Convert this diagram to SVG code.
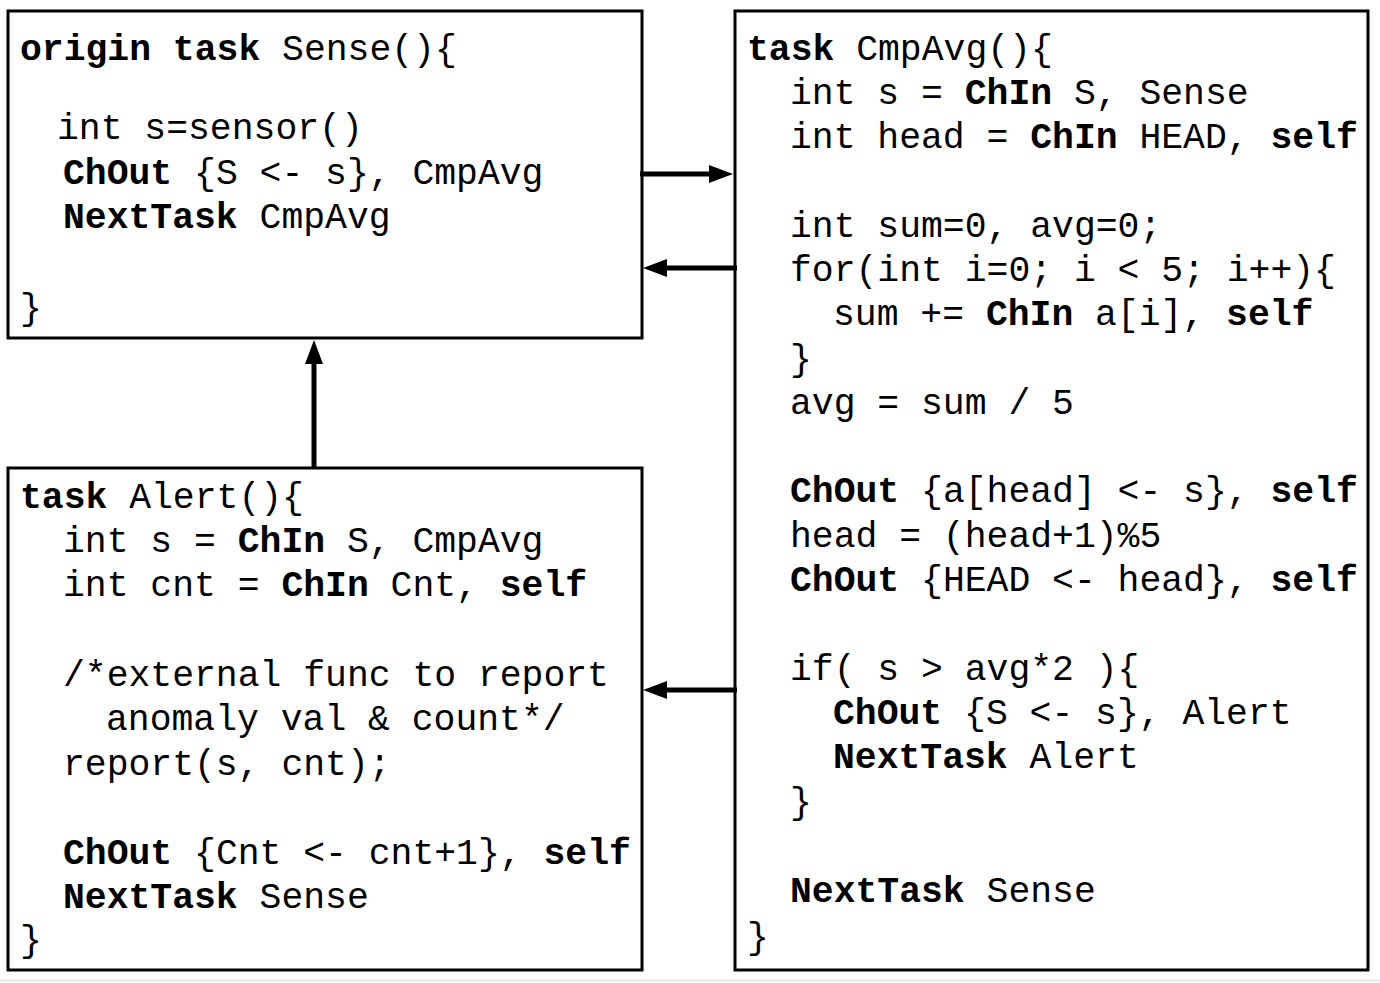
<svg xmlns="http://www.w3.org/2000/svg" width="1380" height="983" viewBox="0 0 1380 983" xml:space="preserve">
<style>
.box{fill:#fff;stroke:#000;stroke-width:3}
.code{font-family:"Nimbus Mono PS","Courier New","Liberation Mono",monospace;font-size:36.4px;fill:#000}
.b{font-weight:bold}
.conn{stroke:#000;stroke-width:5;fill:none}
</style>
<defs>
<marker id="ah" markerUnits="userSpaceOnUse" markerWidth="26" markerHeight="20" refX="12" refY="9" orient="auto"><path d="M0,0 L24,9 L0,18 z" fill="#000"/></marker>
</defs>
<rect width="1380" height="983" fill="#fff"/>
<line x1="0" y1="980.5" x2="1380" y2="980.5" stroke="#e8e8e8" stroke-width="2"/>
<g id="sense">
<rect class="box" x="8" y="11" width="634" height="327"/>
<text class="code" x="20" y="60"><tspan class="b">origin task</tspan> Sense(){</text>
<text class="code" x="57" y="139">int s=sensor()</text>
<text class="code" x="63" y="184"><tspan class="b">ChOut</tspan> {S &lt;- s}, CmpAvg</text>
<text class="code" x="63" y="228"><tspan class="b">NextTask</tspan> CmpAvg</text>
<text class="code" x="20" y="319">}</text>
</g>
<g id="cmpavg">
<rect class="box" x="735" y="11" width="633" height="959"/>
<text class="code" x="747" y="60"><tspan class="b">task</tspan> CmpAvg(){</text>
<text class="code" x="790" y="104">int s = <tspan class="b">ChIn</tspan> S, Sense</text>
<text class="code" x="790" y="148">int head = <tspan class="b">ChIn</tspan> HEAD, <tspan class="b">self</tspan></text>
<text class="code" x="790" y="237">int sum=0, avg=0;</text>
<text class="code" x="790" y="281">for(int i=0; i &lt; 5; i++){</text>
<text class="code" x="833" y="325">sum += <tspan class="b">ChIn</tspan> a[i], <tspan class="b">self</tspan></text>
<text class="code" x="790" y="370">}</text>
<text class="code" x="790" y="414">avg = sum / 5</text>
<text class="code" x="790" y="502"><tspan class="b">ChOut</tspan> {a[head] &lt;- s}, <tspan class="b">self</tspan></text>
<text class="code" x="790" y="547">head = (head+1)%5</text>
<text class="code" x="790" y="591"><tspan class="b">ChOut</tspan> {HEAD &lt;- head}, <tspan class="b">self</tspan></text>
<text class="code" x="790" y="680">if( s &gt; avg*2 ){</text>
<text class="code" x="833" y="724"><tspan class="b">ChOut</tspan> {S &lt;- s}, Alert</text>
<text class="code" x="833" y="768"><tspan class="b">NextTask</tspan> Alert</text>
<text class="code" x="790" y="813">}</text>
<text class="code" x="790" y="902"><tspan class="b">NextTask</tspan> Sense</text>
<text class="code" x="747" y="948">}</text>
</g>
<g id="alert">
<rect class="box" x="8" y="468" width="634" height="502"/>
<text class="code" x="20" y="508"><tspan class="b">task</tspan> Alert(){</text>
<text class="code" x="63" y="552">int s = <tspan class="b">ChIn</tspan> S, CmpAvg</text>
<text class="code" x="63" y="596">int cnt = <tspan class="b">ChIn</tspan> Cnt, <tspan class="b">self</tspan></text>
<text class="code" x="63" y="686">/*external func to report</text>
<text class="code" x="106" y="730">anomaly val &amp; count*/</text>
<text class="code" x="63" y="775">report(s, cnt);</text>
<text class="code" x="63" y="864"><tspan class="b">ChOut</tspan> {Cnt &lt;- cnt+1}, <tspan class="b">self</tspan></text>
<text class="code" x="63" y="908"><tspan class="b">NextTask</tspan> Sense</text>
<text class="code" x="20" y="951">}</text>
</g>
<g id="connectors">
<line class="conn" x1="640" y1="174" x2="721" y2="174" marker-end="url(#ah)"/>
<line class="conn" x1="737" y1="268" x2="655" y2="268" marker-end="url(#ah)"/>
<line class="conn" x1="737" y1="690" x2="655" y2="690" marker-end="url(#ah)"/>
<line class="conn" x1="314" y1="469" x2="314" y2="352" marker-end="url(#ah)"/>
</g>
</svg>
